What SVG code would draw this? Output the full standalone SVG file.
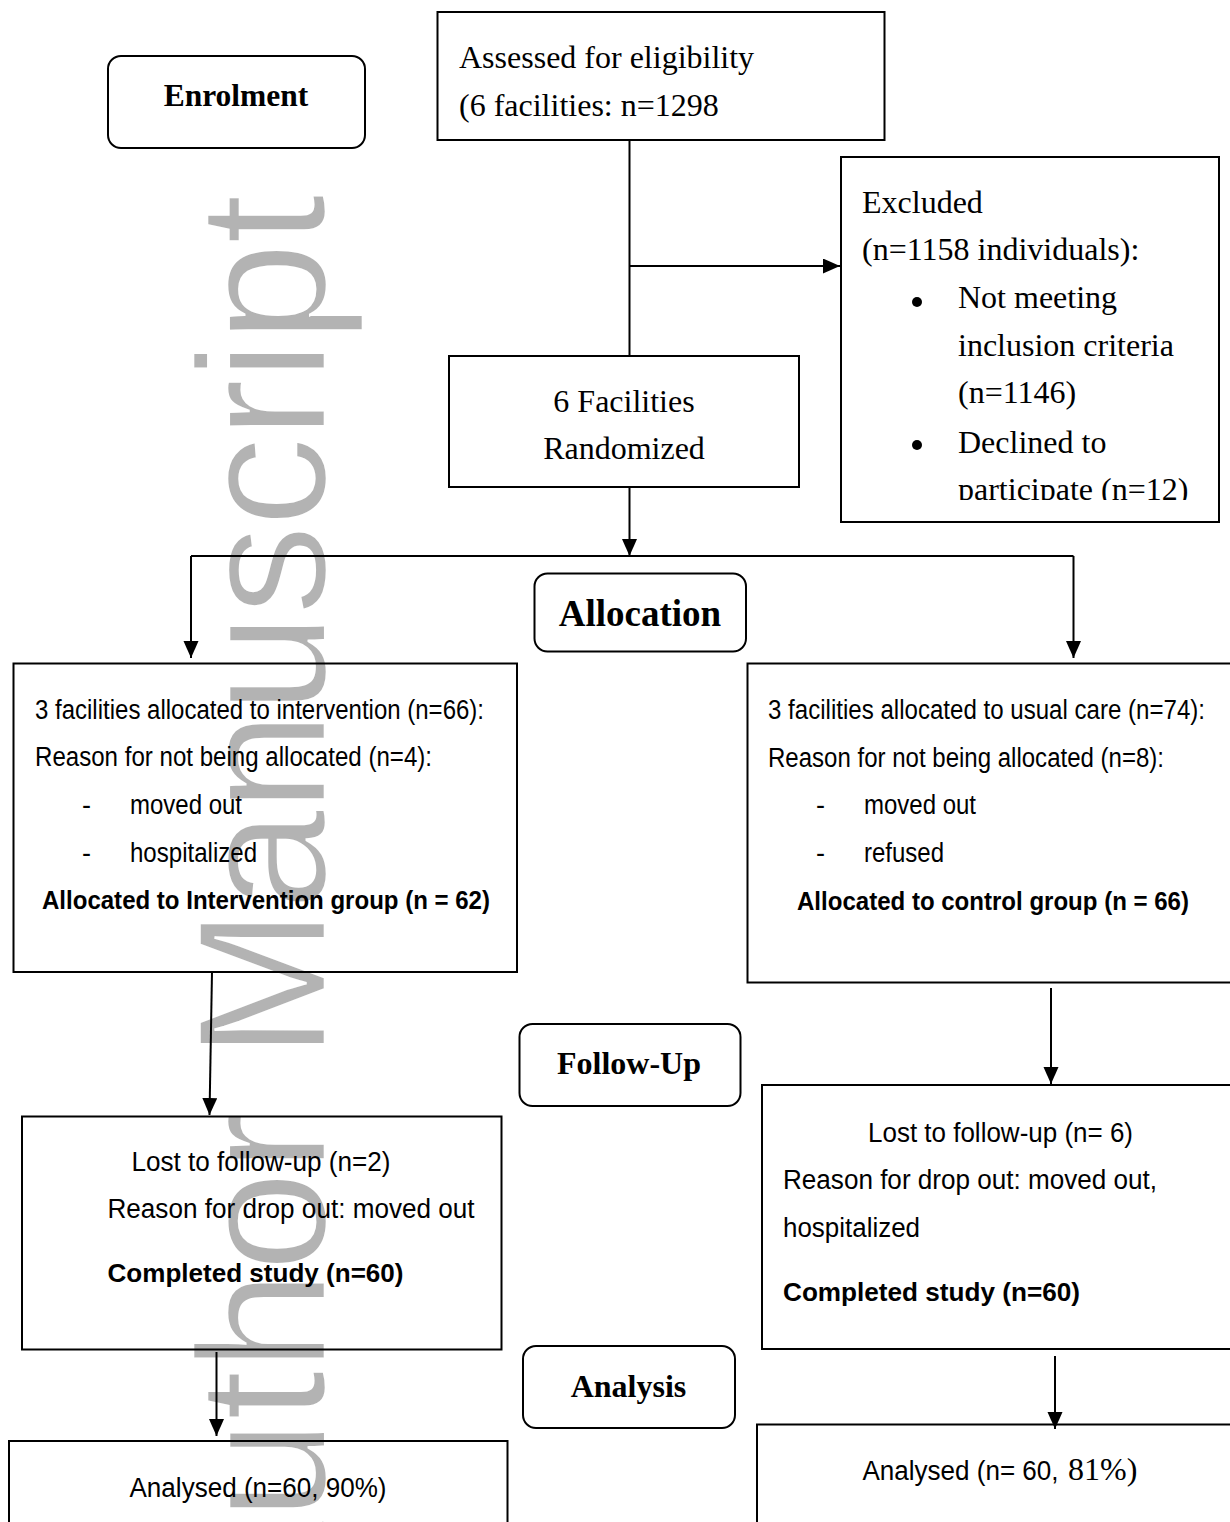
<svg xmlns="http://www.w3.org/2000/svg" width="1230" height="1522" viewBox="0 0 1230 1522">
<style>
.box{fill:none;stroke:#000;stroke-width:2}
.wm{font-family:"Liberation Sans",Arial,sans-serif;font-size:181px;fill:#b3b3b3;stroke:#fff;stroke-width:2.5;paint-order:normal}
.tr{font-family:"Liberation Serif","Times New Roman",serif;font-size:32px;fill:#000}
.tb{font-family:"Liberation Serif","Times New Roman",serif;font-weight:bold;fill:#000}
.sa{font-family:"Liberation Sans",Arial,sans-serif;font-size:27px;fill:#000}
.sb{font-family:"Liberation Sans",Arial,sans-serif;font-weight:bold;font-size:26px;fill:#000}
.c{fill:none;stroke:#000;stroke-width:2}
</style>
<defs>
<marker id="ah" markerUnits="userSpaceOnUse" markerWidth="18" markerHeight="16" refX="17" refY="7.5" orient="auto">
<path d="M0,0 L17,7.5 L0,15 z" fill="#000"/>
</marker>
<clipPath id="clipP"><rect x="940" y="460" width="270" height="40"/></clipPath>
</defs>
<rect width="1230" height="1522" fill="#fff"/>
<g id="watermark">
<text class="wm" transform="translate(325,1640) rotate(-90)" letter-spacing="-1">Author</text>
<text class="wm" transform="translate(325,1059) rotate(-90)" textLength="865" lengthAdjust="spacing">Manuscript</text>
</g>
<g id="connectors">
<path class="c" d="M629.5,140 V356"/>
<path class="c" d="M629.5,266 H840" marker-end="url(#ah)"/>
<path class="c" d="M629.5,487 V556" marker-end="url(#ah)"/>
<path class="c" d="M191,556 H1073.5"/>
<path class="c" d="M191,556 V658" marker-end="url(#ah)"/>
<path class="c" d="M1073.5,556 V658" marker-end="url(#ah)"/>
<path class="c" d="M212,972 L209.5,1115" marker-end="url(#ah)"/>
<path class="c" d="M1051,988 V1084" marker-end="url(#ah)"/>
<path class="c" d="M216.5,1352 V1436" marker-end="url(#ah)"/>
<path class="c" d="M1055,1356 V1429" marker-end="url(#ah)"/>
</g>
<g id="enrolment">
<rect class="box" x="108" y="56" width="257" height="92" rx="13"/>
<text class="tb" x="236" y="106" font-size="31.5" text-anchor="middle">Enrolment</text>
</g>
<g id="assessed">
<rect class="box" x="437.5" y="12" width="447" height="128"/>
<text class="tr" x="459" y="68">Assessed for eligibility</text>
<text class="tr" x="459" y="116">(6 facilities: n=1298</text>
</g>
<g id="excluded">
<rect class="box" x="841" y="157" width="378" height="365"/>
<text class="tr" x="862" y="213">Excluded</text>
<text class="tr" x="862" y="260">(n=1158 individuals):</text>
<circle cx="917" cy="302" r="5"/>
<text class="tr" x="958" y="308">Not meeting</text>
<text class="tr" x="958" y="356">inclusion criteria</text>
<text class="tr" x="958" y="403">(n=1146)</text>
<circle cx="917" cy="445" r="5"/>
<text class="tr" x="958" y="453">Declined to</text>
<text class="tr" x="958" y="500" clip-path="url(#clipP)">participate (n=12)</text>
</g>
<g id="randomized">
<rect class="box" x="449" y="356" width="350" height="131"/>
<text class="tr" x="624" y="412" text-anchor="middle">6 Facilities</text>
<text class="tr" x="624" y="459" text-anchor="middle">Randomized</text>
</g>
<g id="allocation">
<rect class="box" x="534.5" y="573.5" width="211.5" height="78" rx="13"/>
<text class="tb" x="640" y="626" font-size="37" text-anchor="middle">Allocation</text>
</g>
<g id="intervention">
<rect class="box" x="13.5" y="663.5" width="503.5" height="308.5"/>
<text class="sa" x="35" y="719" textLength="449" lengthAdjust="spacingAndGlyphs">3 facilities allocated to intervention (n=66):</text>
<text class="sa" x="35" y="766" textLength="397" lengthAdjust="spacingAndGlyphs">Reason for not being allocated (n=4):</text>
<text class="sa" x="82" y="814">-</text>
<text class="sa" x="130" y="814" textLength="112" lengthAdjust="spacingAndGlyphs">moved out</text>
<text class="sa" x="82" y="862">-</text>
<text class="sa" x="130" y="862" textLength="127" lengthAdjust="spacingAndGlyphs">hospitalized</text>
<text class="sb" x="42" y="909" textLength="448" lengthAdjust="spacingAndGlyphs">Allocated to Intervention group (n = 62)</text>
</g>
<g id="usualcare">
<rect class="box" x="747.5" y="663.5" width="490" height="319"/>
<text class="sa" x="768" y="719" textLength="437" lengthAdjust="spacingAndGlyphs">3 facilities allocated to usual care (n=74):</text>
<text class="sa" x="768" y="767" textLength="396" lengthAdjust="spacingAndGlyphs">Reason for not being allocated (n=8):</text>
<text class="sa" x="816" y="814">-</text>
<text class="sa" x="864" y="814" textLength="112" lengthAdjust="spacingAndGlyphs">moved out</text>
<text class="sa" x="816" y="862">-</text>
<text class="sa" x="864" y="862" textLength="80" lengthAdjust="spacingAndGlyphs">refused</text>
<text class="sb" x="797" y="910" textLength="392" lengthAdjust="spacingAndGlyphs">Allocated to control group (n = 66)</text>
</g>
<g id="followup">
<rect class="box" x="519.5" y="1024" width="221" height="82" rx="13"/>
<text class="tb" x="629" y="1074" font-size="32" text-anchor="middle">Follow-Up</text>
</g>
<g id="lost-left">
<rect class="box" x="22" y="1116.5" width="479.5" height="233"/>
<text class="sa" x="131.5" y="1171" font-size="28" textLength="259" lengthAdjust="spacingAndGlyphs">Lost to follow-up (n=2)</text>
<text class="sa" x="107.5" y="1218" font-size="28" textLength="367" lengthAdjust="spacingAndGlyphs">Reason for drop out: moved out</text>
<text class="sb" x="107.5" y="1282" font-size="27" textLength="296" lengthAdjust="spacingAndGlyphs">Completed study (n=60)</text>
</g>
<g id="lost-right">
<rect class="box" x="762" y="1085" width="480" height="264"/>
<text class="sa" x="868" y="1142" font-size="28" textLength="265" lengthAdjust="spacingAndGlyphs">Lost to follow-up (n= 6)</text>
<text class="sa" x="783" y="1189" font-size="28" textLength="374" lengthAdjust="spacingAndGlyphs">Reason for drop out: moved out,</text>
<text class="sa" x="783" y="1237" font-size="28" textLength="137" lengthAdjust="spacingAndGlyphs">hospitalized</text>
<text class="sb" x="783" y="1301" font-size="27" textLength="297" lengthAdjust="spacingAndGlyphs">Completed study (n=60)</text>
</g>
<g id="analysis">
<rect class="box" x="523" y="1346" width="212" height="82" rx="13"/>
<text class="tb" x="628.5" y="1397" font-size="32" text-anchor="middle">Analysis</text>
</g>
<g id="analysed-left">
<rect class="box" x="9" y="1441" width="498.5" height="100"/>
<text class="sa" x="129.5" y="1497" font-size="28" textLength="257" lengthAdjust="spacingAndGlyphs">Analysed (n=60, 90%)</text>
</g>
<g id="analysed-right">
<rect class="box" x="757" y="1424.5" width="490" height="120"/>
<text class="sa" x="862.5" y="1480" font-size="28" textLength="196" lengthAdjust="spacingAndGlyphs">Analysed (n= 60,</text>
<text class="tr" x="1068" y="1480" font-size="28">81%)</text>
</g>
</svg>
